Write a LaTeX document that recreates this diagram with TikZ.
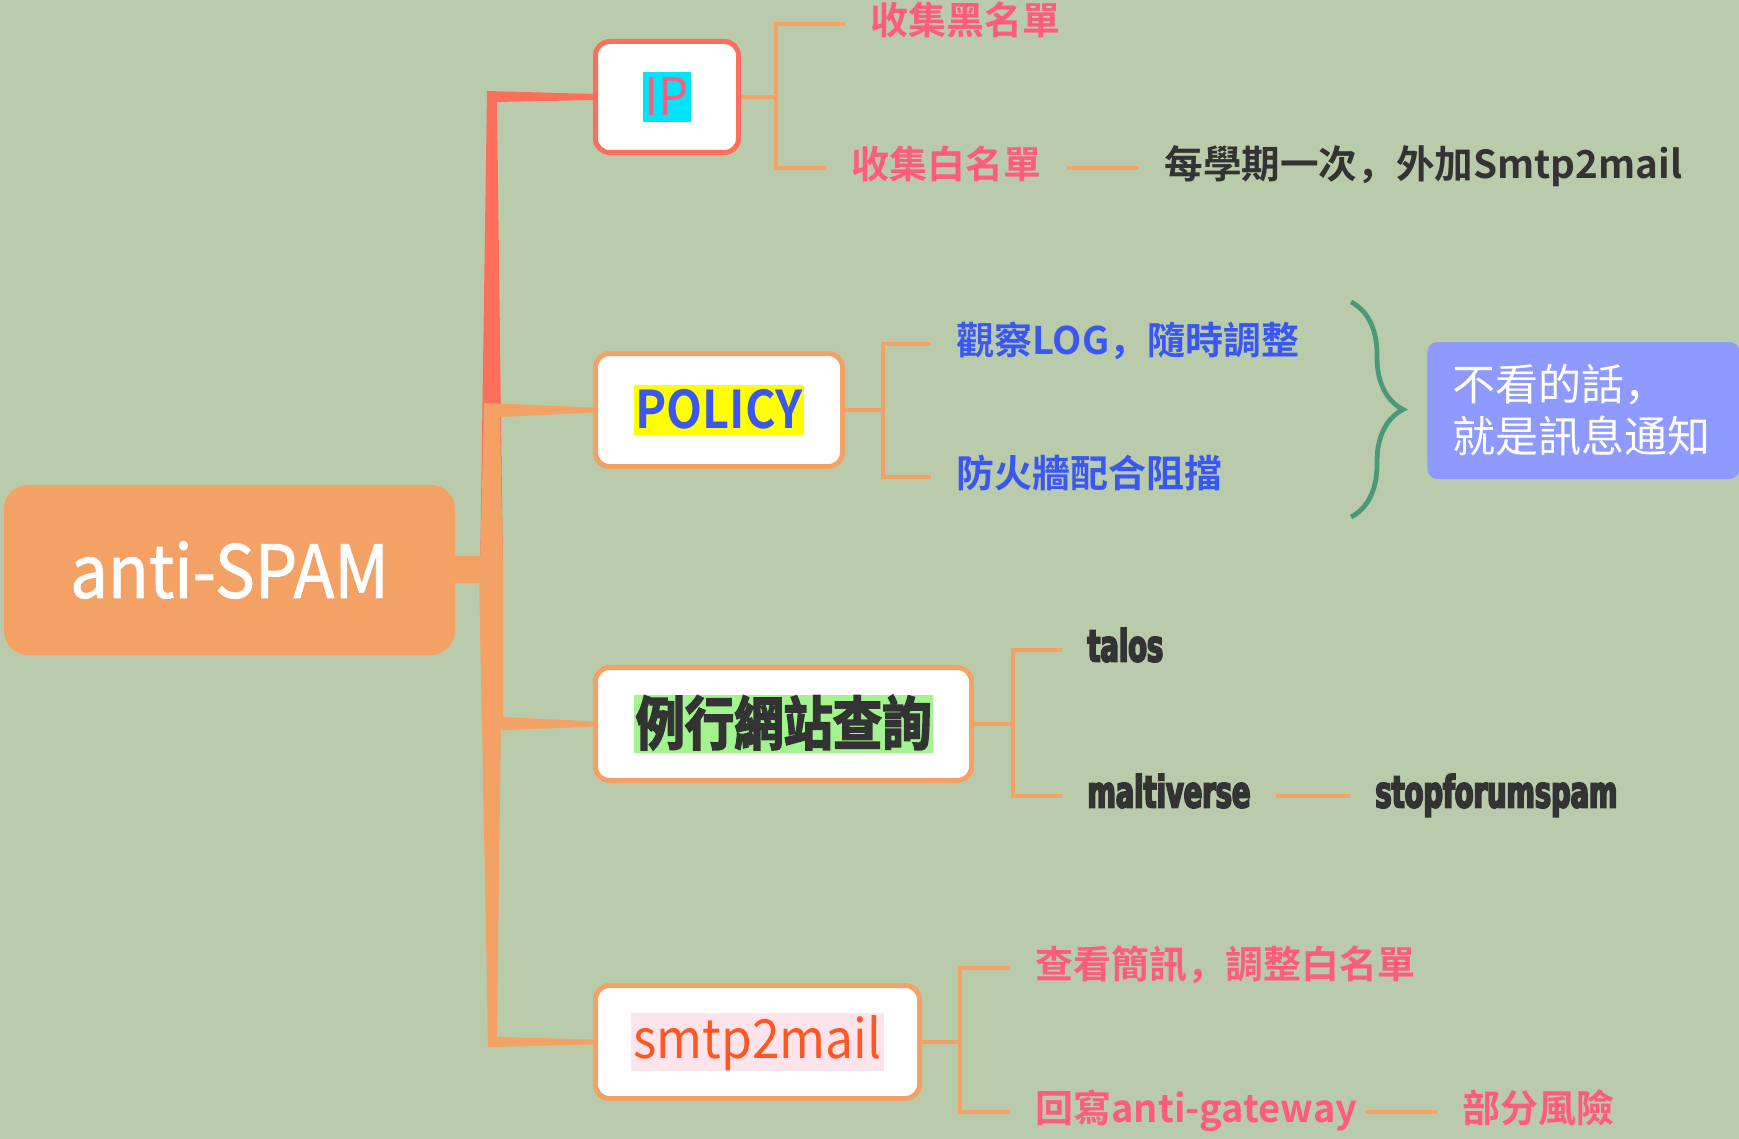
\documentclass[tikz,border=0pt]{standalone}
\usepackage{fontspec}
\usetikzlibrary{positioning,decorations.pathreplacing}
\newfontfamily\tcfont{Noto Sans CJK SC}[BoldFont={Noto Sans CJK SC Bold}]
\newfontfamily\boxfont{Noto Sans CJK SC}[FakeStretch=0.92,BoldFont={Noto Sans CJK SC Bold},BoldFeatures={FakeStretch=0.9}]
\newfontfamily\rootfont{Noto Sans CJK SC}[FakeStretch=0.92,FakeBold=1.2]
\newfontfamily\sitesfont{Noto Sans CJK SC Bold}[FakeStretch=0.85,FakeBold=3]
\newfontfamily\heavyfont{DejaVu Sans Bold}[FakeStretch=0.62,FakeBold=4]
\definecolor{mapbg}{HTML}{BACBAB}
\definecolor{spamorange}{HTML}{F4A166}
\definecolor{spamred}{HTML}{FD6F5C}
\definecolor{pinktext}{HTML}{FF5C7C}
\definecolor{bluetext}{HTML}{3B57F2}
\definecolor{darktext}{HTML}{333333}
\definecolor{smtptext}{HTML}{FF5722}
\definecolor{ipcyan}{HTML}{00E5FF}
\definecolor{hlyellow}{HTML}{FFFF00}
\definecolor{hlgreen}{HTML}{A2F58E}
\definecolor{hlpink}{HTML}{FCE4EC}
\definecolor{bracegreen}{HTML}{4A9A7A}
\definecolor{notefill}{HTML}{8E9AFF}
\newcommand{\markbg}[2]{{\setlength{\fboxsep}{0pt}\colorbox{#1}{\kern1pt\rule[-0.14em]{0pt}{0.98em}#2\kern1pt}}}
\tikzset{
  rootbox/.style={
    fill=spamorange,
    text=white,
    rounded corners=12pt,
    minimum width=225.5pt,
    minimum height=85pt,
    font=\rootfont\fontsize{36.5}{40}\selectfont
  },
  topicbox/.style={
    draw=spamorange,
    fill=white,
    line width=2.5pt,
    rounded corners=7pt,
    minimum height=56.5pt,
    inner sep=0pt
  },
  leaf/.style={
    anchor=west,
    inner xsep=12.5pt,
    inner ysep=0pt,
    text height=1.16em,
    text depth=0.12em,
    text=pinktext,
    font=\tcfont\bfseries\fontsize{19}{22}\selectfont
  },
  heavyleaf/.style={
    anchor=west,
    inner xsep=12.5pt,
    inner ysep=0pt,
    text height=1.25em,
    text depth=0.1em,
    text=darktext,
    font=\heavyfont\fontsize{22}{26}\selectfont
  },
  notebox/.style={
    fill=notefill,
    text=white,
    rounded corners=5pt,
    minimum height=68.5pt,
    inner xsep=12.5pt,
    align=left,
    text width=131pt,
    font=\tcfont\fontsize{21.5}{26}\selectfont
  },
  twig/.style={draw=spamorange, line width=2.3pt}
}

\begin{document}
\begin{tikzpicture}[x=0.5pt, y=-0.5pt]
  \fill[mapbg] (0,0) rectangle (1739,1139);
  \useasboundingbox (0,0) rectangle (1739,1139);

  % tapered branches from the root
  \fill[spamred] (480,575) -- (487,91) -- (595,94) -- (595,100) -- (497,102) -- (503,575) -- cycle;
  \fill[spamorange] (480,575) -- (484,403) -- (595,407.5) -- (595,412.5) -- (500,417) -- (503,575) -- cycle;
  \fill[spamorange] (479,560) -- (482,731) -- (595,726.5) -- (595,721.5) -- (503,717) -- (503,560) -- cycle;
  \fill[spamorange] (479,560) -- (488,1047) -- (595,1044.5) -- (595,1039.5) -- (497,1037) -- (503,560) -- cycle;
  \fill[spamorange] (450,556) rectangle (482,583);

  \node[rootbox] (root) at (229.5,570) {anti-SPAM};

  \node[topicbox, draw=spamred, minimum width=71.5pt, minimum height=55.5pt, text=pinktext,
        font=\boxfont\fontsize{26}{30}\selectfont] (ip) at (667,97) {\markbg{ipcyan}{IP}};
  \node[topicbox, minimum width=123.5pt, text=bluetext,
        font=\boxfont\bfseries\fontsize{26}{30}\selectfont] (policy) at (719,410) {\markbg{hlyellow}{POLICY}};
  \node[topicbox, minimum width=188pt, text=darktext,
        font=\sitesfont\fontsize{29}{32}\selectfont] (sites) at (783.5,724) {\markbg{hlgreen}{例行網站查詢}};
  \node[topicbox, minimum width=162pt, text=smtptext,
        font=\boxfont\fontsize{27}{30}\selectfont] (smtp) at (757.5,1042) {\markbg{hlpink}{smtp2mail}};

  % IP
  \coordinate (ipfork) at (776,97);
  \node[leaf] (blacklist) at (845,24) {收集黑名單};
  \node[leaf] (whitelist) at (826,168) {收集白名單};
  \node[leaf, text=darktext, font=\tcfont\bfseries\fontsize{19.3}{23}\selectfont] (term) at (1139,168) {每學期一次，外加Smtp2mail};
  \draw[twig] (ip) -- (ipfork);
  \draw[twig] (blacklist.west) -| (ipfork) |- (whitelist.west);
  \draw[twig] (whitelist) -- (term);

  % POLICY
  \coordinate (policyfork) at (883,410);
  \node[leaf, text=bluetext] (watchlog) at (931,344) {觀察LOG，隨時調整};
  \node[leaf, text=bluetext] (firewall) at (931,477) {防火牆配合阻擋};
  \draw[twig] (policy) -- (policyfork);
  \draw[twig] (watchlog.west) -| (policyfork) |- (firewall.west);

  \coordinate (bracetop) at (1351,302);
  \coordinate (bracebot) at (1351,517);
  \draw[bracegreen, line width=2.4pt, decorate, decoration={brace, amplitude=26pt}] (bracetop) -- (bracebot);
  \node[notebox, anchor=west] (note) at (1427,410.5) {不看的話，\\就是訊息通知};

  % sites
  \coordinate (sitesfork) at (1013,724);
  \node[heavyleaf] (talos) at (1062,650) {talos};
  \node[heavyleaf] (maltiverse) at (1062,796) {maltiverse};
  \node[heavyleaf] (stopforum) at (1350,796) {stopforumspam};
  \draw[twig] (sites) -- (sitesfork);
  \draw[twig] (talos.west) -| (sitesfork) |- (maltiverse.west);
  \draw[twig] (maltiverse) -- (stopforum);

  % smtp2mail
  \coordinate (smtpfork) at (960,1042);
  \node[leaf] (checksms) at (1010,968) {查看簡訊，調整白名單};
  \node[leaf] (writeback) at (1010,1112) {回寫anti-gateway};
  \node[leaf] (risk) at (1437,1112) {部分風險};
  \draw[twig] (smtp) -- (smtpfork);
  \draw[twig] (checksms.west) -| (smtpfork) |- (writeback.west);
  \draw[twig] ([xshift=-9pt]writeback.east) -- (risk);
\end{tikzpicture}
\end{document}
